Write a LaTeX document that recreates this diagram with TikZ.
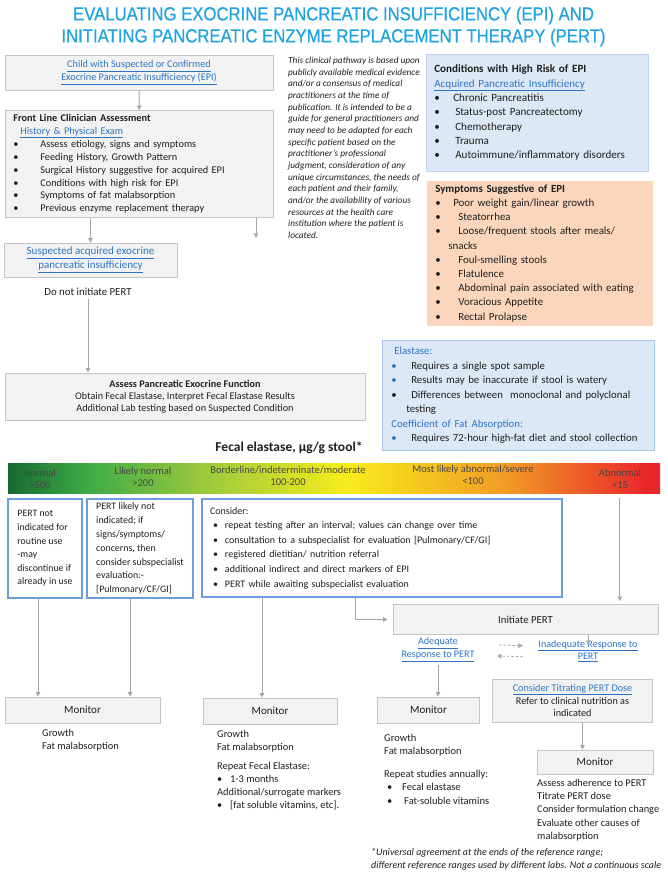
\documentclass[tikz,border=0pt]{standalone}
\usepackage{fontspec}
\setmainfont{Carlito}
\newfontfamily\titlefont[FakeStretch=0.88,FakeBold=0.6]{Liberation Sans}
\usetikzlibrary{arrows.meta,calc,positioning}

\definecolor{titleblue}{HTML}{1FA3E1}
\definecolor{linkblue}{HTML}{2E74C4}
\definecolor{boxgray}{HTML}{F2F2F2}
\definecolor{linegray}{HTML}{C4C4C4}
\definecolor{arrowgray}{HTML}{A6A6A6}
\definecolor{riskblue}{HTML}{DCE8F5}
\definecolor{riskline}{HTML}{BCD3EC}
\definecolor{peach}{HTML}{FBD6BC}
\definecolor{frameblue}{HTML}{6A9FDB}
\definecolor{textgray}{HTML}{1F1F1F}
\definecolor{fe1}{HTML}{176A30}
\definecolor{fe2}{HTML}{3DAA48}
\definecolor{fe3}{HTML}{9BC93C}
\definecolor{fe4}{HTML}{F7EC1B}
\definecolor{fe5}{HTML}{F39C24}
\definecolor{fe6}{HTML}{E8262B}
\pgfdeclarehorizontalshading{fecal}{100bp}{color(0bp)=(fe1); color(25bp)=(fe1); color(31bp)=(fe2); color(40bp)=(fe3); color(51bp)=(fe4); color(63bp)=(fe5); color(74bp)=(fe6); color(100bp)=(fe6)}

\newcommand\txtsize[2]{\fontsize{#1}{#2}\selectfont}
\newcommand\lnk[1]{\textcolor{linkblue}{\underline{#1}}}
\newcommand\itm[2][27pt]{\makebox[#1][l]{\textbullet}#2}
\newcommand\bitm[1]{\makebox[20pt][l]{\textcolor{linkblue}{\textbullet}}#1}

\begin{document}
\begin{tikzpicture}[x=1pt,y=-1pt]
        \tikzset{graybox/.style = {draw=linegray, fill=boxgray, line width=0.8pt, text=textgray}}
        \tikzset{framebox/.style = {draw=frameblue, fill=white, line width=1.1pt, text=textgray}}
        \tikzset{riskbox/.style = {draw=riskline, fill=riskblue, line width=0.6pt, text=textgray}}
        \tikzset{arr/.style = {draw=arrowgray, line width=1pt, -{Triangle[width=4.5pt,length=4.5pt]}}}
        \tikzset{dasharr/.style = {arr, line width=0.8pt, dash pattern=on 2.5pt off 2pt}}
        \tikzset{plain/.style = {anchor=north west, inner sep=0pt, align=left, text=textgray}}
        \tikzset{barlabel/.style = {align=center, inner sep=0pt, text=black!72, font=\txtsize{10.5}{12}}}
        \path[fill=white, use as bounding box] (0,0) rectangle (667,877);
        % title
        \node[text=titleblue, align=center, font=\titlefont\txtsize{19}{22}] (title) at (333.5,26.5)
            {EVALUATING EXOCRINE PANCREATIC INSUFFICIENCY (EPI) AND\\INITIATING PANCREATIC ENZYME REPLACEMENT THERAPY (PERT)};
        % boxes on the left
        \node[graybox, minimum width=268pt, minimum height=35pt, align=center, font=\txtsize{10.2}{13}] (child) at (139,72.5)
            {\lnk{Child with Suspected or Confirmed}\\\lnk{Exocrine Pancreatic Insufficiency (EPI)}};
        \node[graybox, anchor=north west, text width=252pt, inner xsep=8pt, minimum height=107pt, align=left, font=\txtsize{10.3}{12.9}] (front) at (5,110)
            {\textbf{Front Line Clinician Assessment}\\
             \hspace*{7pt}\lnk{History \& Physical Exam}\\
             \itm{Assess etiology, signs and symptoms}\\
             \itm{Feeding History, Growth Pattern}\\
             \itm{Surgical History suggestive for acquired EPI}\\
             \itm{Conditions with high risk for EPI}\\
             \itm{Symptoms of fat malabsorption}\\
             \itm{Previous enzyme replacement therapy}};
        \node[graybox, minimum width=173pt, minimum height=34pt, align=center, font=\txtsize{11}{14}] (suspected) at (90.5,260)
            {\lnk{Suspected acquired exocrine}\\\lnk{pancreatic insufficiency}};
        \node[text=textgray, font=\txtsize{10.8}{12}] (donot) at (88,292) {Do not initiate PERT};
        \node[graybox, minimum width=360pt, minimum height=47pt, align=center, font=\txtsize{10.2}{12.2}] (assess) at (185,396.5)
            {\textbf{Assess Pancreatic Exocrine Function}\\
             Obtain Fecal Elastase, Interpret Fecal Elastase Results\\
             Additional Lab testing based on Suspected Condition};
        % note in the middle
        \node[plain, font=\itshape\txtsize{9.3}{11.65}] (note) at (288,57)
            {This clinical pathway is based upon\\
             publicly available medical evidence\\
             and/or a consensus of medical\\
             practitioners at the time of\\
             publication. It is intended to be a\\
             guide for general practitioners and\\
             may need to be adapted for each\\
             specific patient based on the\\
             practitioner’s professional\\
             judgment, consideration of any\\
             unique circumstances, the needs of\\
             each patient and their family,\\
             and/or the availability of various\\
             resources at the health care\\
             institution where the patient is\\
             located.};
        % boxes on the right
        \node[riskbox, anchor=north west, text width=206pt, inner xsep=8pt, minimum height=117pt, align=left, font=\txtsize{11.1}{14.3}] (risk) at (426,54)
            {\textbf{Conditions with High Risk of EPI}\\
             \lnk{Acquired Pancreatic Insufficiency}\\
             \itm[19pt]{Chronic Pancreatitis}\\
             \itm[21pt]{Status-post Pancreatectomy}\\
             \itm[21pt]{Chemotherapy}\\
             \itm[21pt]{Trauma}\\
             \itm[21pt]{Autoimmune/inflammatory disorders}};
        \node[riskbox, fill=peach, draw=peach, anchor=north west, text width=209pt, inner xsep=8pt, minimum height=139pt, align=left, font=\txtsize{10.9}{14.2}] (symptoms) at (427,181)
            {\textbf{Symptoms Suggestive of EPI}\\
             \itm[18pt]{Poor weight gain/linear growth}\\
             \itm[23pt]{Steatorrhea}\\
             \itm[23pt]{Loose/frequent stools\ after meals/}\\
             \hspace*{13pt}snacks\\
             \itm[23pt]{Foul-smelling stools}\\
             \itm[23pt]{Flatulence}\\
             \itm[23pt]{Abdominal pain associated with eating}\\
             \itm[23pt]{Voracious Appetite}\\
             \itm[23pt]{Rectal Prolapse}};
        \node[riskbox, draw=frameblue!60, anchor=north west, text width=254pt, inner xsep=9pt, minimum height=110pt, align=left, font=\txtsize{10.8}{14.5}] (elastase) at (382,340)
            {\hspace*{3pt}\textcolor{linkblue}{Elastase:}\\
             \bitm{Requires a single spot sample}\\
             \bitm{Results may be inaccurate if stool is watery}\\
             \itm[20pt]{Differences between\ \ monoclonal and polyclonal}\\
             \hspace*{15pt}testing\\
             \textcolor{linkblue}{Coefficient of Fat Absorption:}\\
             \bitm{Requires 72-hour high-fat diet and stool collection}};
        % fecal elastase scale
        \node[text=textgray, font=\bfseries\txtsize{13.5}{14}] (fecal) at (289,448) {Fecal elastase, µg/g stool*};
        \node[shade, shading=fecal, minimum width=652pt, minimum height=30pt, inner sep=0pt] (bar) at (334,478) {};
        \node[barlabel] (normal) at (40,479) {Normal\\>500};
        \node[barlabel] (likely) at (143,477) {Likely normal\\>200};
        \node[barlabel] (border) at (288,476) {Borderline/indeterminate/moderate\\100-200};
        \node[barlabel] (severe) at (473,475) {Most likely abnormal/severe\\<100};
        \node[barlabel] (abnormal) at (620,479) {Abnormal\\<15};
        % boxes under the scale
        \node[framebox, minimum width=74pt, minimum height=99pt, align=left, font=\txtsize{9.8}{13.6}] (notind) at (45,548.5)
            {PERT not\\indicated for\\routine use\\-may\\discontinue if\\already in use};
        \node[framebox, minimum width=106pt, minimum height=99pt, align=left, font=\txtsize{9.9}{13.9}] (likelynot) at (140,548.5)
            {PERT likely not\\indicated; if\\signs/symptoms/\\concerns, then\\consider subspecialist\\evaluation:-\\{[Pulmonary/CF/GI]}};
        \node[framebox, text width=344pt, inner xsep=8pt, minimum height=98pt, align=left, font=\txtsize{10}{14.6}] (consider) at (382,548)
            {Consider:\\
             \hspace*{3pt}\itm[12pt]{repeat testing after an interval; values can change over time}\\
             \hspace*{3pt}\itm[12pt]{consultation to a subspecialist for evaluation [Pulmonary/CF/GI]}\\
             \hspace*{3pt}\itm[12pt]{registered dietitian/ nutrition referral}\\
             \hspace*{3pt}\itm[12pt]{additional indirect and direct markers of\ EPI}\\
             \hspace*{3pt}\itm[12pt]{PERT while awaiting subspecialist\ evaluation}};
        % initiate PERT
        \node[graybox, minimum width=265pt, minimum height=30pt, font=\txtsize{10.7}{12}] (init) at (525.5,619.5) {Initiate PERT};
        \node[align=center, font=\txtsize{10.1}{13}] (adequate) at (438,649.5) {\lnk{Adequate}\\\lnk{Response to PERT}};
        \node[align=center, font=\txtsize{10.1}{12.5}] (inadequate) at (588,651) {\lnk{Inadequate Response to}\\\lnk{PERT}};
        \node[graybox, minimum width=160pt, minimum height=43pt, align=center, font=\txtsize{10.2}{12.5}] (titrate) at (572.5,700.5)
            {\lnk{Consider Titrating PERT Dose}\\Refer to clinical nutrition as\\indicated};
        % monitor boxes
        \node[graybox, minimum width=155pt, minimum height=26pt, font=\txtsize{11}{12}] (mon1) at (82.5,710) {Monitor};
        \node[graybox, minimum width=134pt, minimum height=26pt, font=\txtsize{11}{12}] (mon2) at (270,711) {Monitor};
        \node[graybox, minimum width=102pt, minimum height=26pt, font=\txtsize{11}{12}] (mon3) at (428.5,710) {Monitor};
        \node[graybox, minimum width=116pt, minimum height=24pt, font=\txtsize{11}{12}] (mon4) at (595,762) {Monitor};
        \node[plain, font=\txtsize{10.4}{13}] (mon1txt) at (42,729) {Growth\\Fat malabsorption};
        \node[plain, font=\txtsize{10.4}{13.3}] (mon2txt) at (217,730)
            {Growth\\Fat malabsorption\\[5pt]Repeat Fecal Elastase:\\\itm[13pt]{1-3 months}\\Additional/surrogate markers\\\itm[13pt]{[fat soluble vitamins, etc].}};
        \node[plain, font=\txtsize{10.5}{13.5}] (mon3txt) at (384,734)
            {Growth\\Fat malabsorption\\[9pt]Repeat studies annually:\\\hspace*{3pt}\itm[15pt]{Fecal elastase}\\\hspace*{3pt}\itm[17pt]{Fat-soluble vitamins}};
        \node[plain, font=\txtsize{10.4}{13.2}] (mon4txt) at (537,779)
            {Assess adherence to PERT\\Titrate PERT dose\\Consider formulation change\\Evaluate other causes of\\malabsorption};
        \node[plain, font=\itshape\txtsize{10}{13}] (foot) at (371,848)
            {*Universal agreement at the ends of the reference range;\\different reference ranges used by different labs. Not a continuous scale};
        % helper points
        \coordinate (loose) at (256,238);
        \coordinate (abn) at ($(bar.south west)+(612,0)$);
        \coordinate (cons1) at ($(consider.south)+(-120,0)$);
        \coordinate (cons2) at ($(consider.south)+(-27,0)$);
        \coordinate (tit) at ($(titrate.south)+(10,0)$);
        % arrows
        \draw[arr] (child) -- (front);
        \draw[arr] (suspected.north |- front.south) -- (suspected);
        \draw[arr] (loose |- front.south) -- (loose);
        \draw[arr] (donot) -- (donot |- assess.north);
        \draw[arr, shorten <=5pt, shorten >=3pt] (abn) -- (abn |- init.north);
        \draw[arr] ([xshift=-7pt]notind.south) -- ([xshift=-7pt]notind.south |- mon1.north);
        \draw[arr] ([xshift=-10pt]likelynot.south) -- ([xshift=-10pt]likelynot.south |- mon1.north);
        \draw[arr] (cons1) -- (cons1 |- mon2.north);
        \draw[arr, shorten >=5pt] (cons2) |- (init.west);
        \draw[arr] (init.south -| inadequate) -- ([yshift=6pt]inadequate.center);
        \draw[dasharr, shorten <=21pt, shorten >=12pt] ([yshift=5pt]adequate.east) -- ([yshift=5pt]inadequate.west);
        \draw[dasharr, shorten <=12pt, shorten >=19pt] ([yshift=-6pt]inadequate.west) -- ([yshift=-6pt]adequate.east);
        \draw[arr] (adequate) -- (adequate |- mon3.north);
        \draw[arr] (tit) -- (tit |- mon4.north);
\end{tikzpicture}
\end{document}
